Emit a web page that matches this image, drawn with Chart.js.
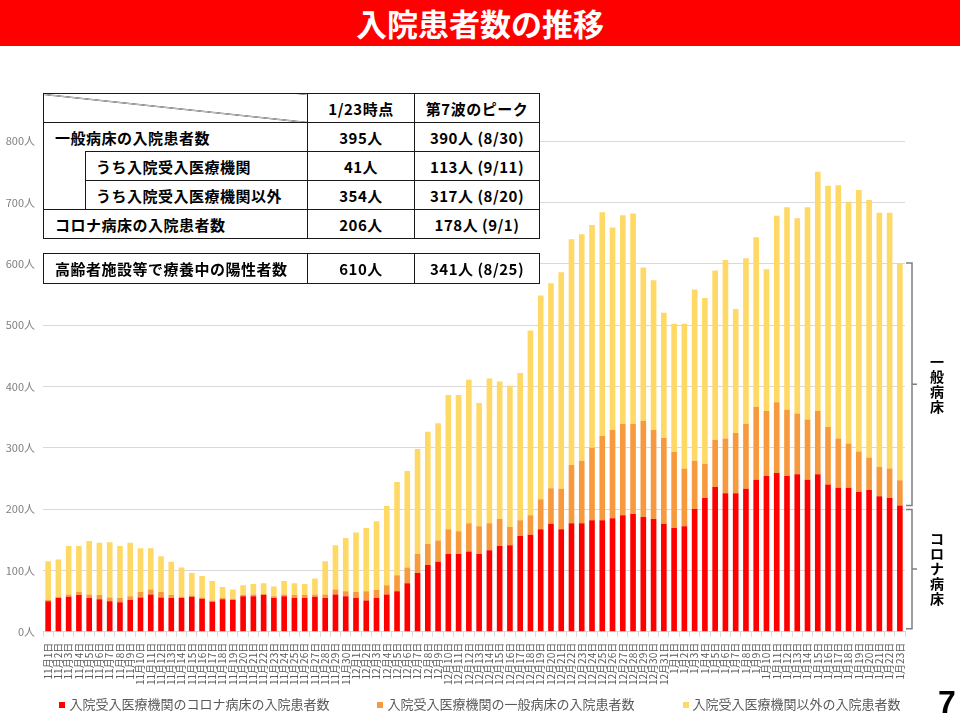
<!DOCTYPE html>
<html lang="ja">
<head>
<meta charset="utf-8">
<title>入院患者数の推移</title>
<script src="https://cdn.jsdelivr.net/npm/chart.js@4.4.1/dist/chart.umd.min.js"></script>
<style>
  body {
    margin: 0;
    width: 960px;
    height: 720px;
    position: relative;
    overflow: hidden;
    background: #fff;
    font-family: "Noto Sans CJK JP", "Noto Sans", sans-serif;
  }
  #hospital-chart {
    position: absolute;
    left: 0;
    top: 0;
  }
  .title-bar {
    position: absolute;
    left: 0;
    top: 0;
    width: 960px;
    height: 46px;
    background: #ff0000;
    color: #fff;
    font-weight: bold;
    font-size: 31px;
    line-height: 46px;
    text-align: center;
  }
  table.summary {
    position: absolute;
    left: 43px;
    width: 496px;
    border-collapse: collapse;
    table-layout: fixed;
    background: #fff;
    font-weight: bold;
    font-size: 15px;
    letter-spacing: 0.5px;
    color: #000;
  }
  table.summary td {
    border: 1px solid #1a1a1a;
    padding: 0;
    text-align: center;
    white-space: nowrap;
    overflow: hidden;
  }
  table.summary tr { height: 29px; }
  table.summary td.item { text-align: left; padding-left: 11px; }
  table.summary td.sub { padding-left: 10px; }
  table.summary td.no-bottom { border-bottom: none; }
  table.summary td.indent { border-top: none; }
  table.summary td.diag {
    background: linear-gradient(to top right, transparent calc(50% - 0.7px), #1a1a1a 50%, transparent calc(50% + 0.7px));
  }
  #table-main { top: 93px; }
  #table-care { top: 253px; }
  #table-care tr { height: 30px; }
  #legend {
    position: absolute;
    left: 0;
    top: 694px;
    width: 960px;
    text-align: center;
    font-size: 13px;
    line-height: 20px;
    color: #595959;
    white-space: nowrap;
  }
  #legend .item { display: inline-block; margin: 0 24px; }
  #legend .dot {
    display: inline-block;
    width: 6px;
    height: 6px;
    margin-right: 4px;
    vertical-align: 1px;
  }
  .page-no {
    position: absolute;
    left: 938px;
    top: 686px;
    font-family: "Liberation Sans", Arial, sans-serif;
    font-weight: bold;
    font-size: 32px;
    line-height: 32px;
    color: #000;
  }
</style>
</head>
<body>
<canvas id="hospital-chart" width="960" height="720"></canvas>
<div class="title-bar">入院患者数の推移</div>

<table class="summary" id="table-main">
  <colgroup><col style="width:42px"><col style="width:222px"><col style="width:107px"><col style="width:125px"></colgroup>
  <tr><td colspan="2" class="diag"></td><td>1/23時点</td><td>第7波のピーク</td></tr>
  <tr><td colspan="2" class="item no-bottom">一般病床の入院患者数</td><td>395人</td><td>390人 (8/30)</td></tr>
  <tr><td rowspan="2" class="indent"></td><td class="item sub">うち入院受入医療機関</td><td>41人</td><td>113人 (9/11)</td></tr>
  <tr><td class="item sub">うち入院受入医療機関以外</td><td>354人</td><td>317人 (8/20)</td></tr>
  <tr><td colspan="2" class="item">コロナ病床の入院患者数</td><td>206人</td><td>178人 (9/1)</td></tr>
</table>

<table class="summary" id="table-care">
  <colgroup><col style="width:42px"><col style="width:222px"><col style="width:107px"><col style="width:125px"></colgroup>
  <tr><td colspan="2" class="item">高齢者施設等で療養中の陽性者数</td><td>610人</td><td>341人 (8/25)</td></tr>
</table>

<div id="legend"></div>
<div class="page-no">7</div>

<script>
//-- Data //
const dayLabels = [
    '11月1日', '11月2日', '11月3日', '11月4日', '11月5日', '11月6日', '11月7日', '11月8日', '11月9日', '11月10日',
    '11月11日', '11月12日', '11月13日', '11月14日', '11月15日', '11月16日', '11月17日', '11月18日', '11月19日', '11月20日',
    '11月21日', '11月22日', '11月23日', '11月24日', '11月25日', '11月26日', '11月27日', '11月28日', '11月29日', '11月30日',
    '12月1日', '12月2日', '12月3日', '12月4日', '12月5日', '12月6日', '12月7日', '12月8日', '12月9日', '12月10日',
    '12月11日', '12月12日', '12月13日', '12月14日', '12月15日', '12月16日', '12月17日', '12月18日', '12月19日', '12月20日',
    '12月21日', '12月22日', '12月23日', '12月24日', '12月25日', '12月26日', '12月27日', '12月28日', '12月29日', '12月30日',
    '12月31日',
    '1月1日', '1月2日', '1月3日', '1月4日', '1月5日', '1月6日', '1月7日', '1月8日', '1月9日', '1月10日',
    '1月11日', '1月12日', '1月13日', '1月14日', '1月15日', '1月16日', '1月17日', '1月18日', '1月19日', '1月20日',
    '1月21日', '1月22日', '1月23日'
];

// 入院受入医療機関のコロナ病床
const coronaBed = [
    50, 55, 57, 60, 55, 53, 50, 48, 52, 56, 61, 56, 55, 55, 57, 54, 49, 53, 52, 58,
    58, 60, 55, 58, 55, 55, 57, 55, 61, 58,
    55, 51, 55, 61, 66, 79, 96, 109, 114, 127, 127, 131, 127, 133, 140, 141, 156, 158, 167, 176,
    167, 177, 177, 182, 182, 185, 190, 192, 187, 184, 176,
    169, 172, 200, 218, 236, 226, 226, 233, 248, 254, 259, 254, 257, 248, 257, 240, 235, 235, 228, 231,
    221, 218, 206
];

// 入院受入医療機関の一般病床
const generalBed = [
    2, 2, 4, 5, 6, 7, 6, 7, 6, 9, 8, 9, 5, 2, 2, 2, 2, 2, 2, 2,
    3, 2, 3, 3, 5, 5, 4, 6, 8, 8,
    10, 15, 13, 15, 26, 26, 31, 34, 35, 40, 37, 46, 45, 44, 44, 30, 26, 32, 49, 58,
    66, 95, 102, 118, 137, 144, 149, 147, 157, 145, 140,
    124, 94, 79, 56, 77, 89, 98, 106, 119, 106, 115, 108, 99, 98, 103, 94, 80, 72, 66, 53,
    48, 48, 41
];

// 入院受入医療機関以外
const otherHospital = [
    63, 61, 79, 75, 87, 85, 90, 85, 87, 71, 67, 58, 54, 48, 37, 35, 32, 18, 15, 16,
    17, 17, 16, 22, 19, 18, 26, 54, 72, 87,
    97, 103, 112, 129, 152, 157, 171, 183, 191, 219, 222, 234, 201, 236, 224, 230, 240, 301, 332, 334,
    353, 368, 369, 363, 365, 330, 340, 343, 250, 244, 204,
    209, 236, 279, 270, 276, 291, 202, 270, 276, 231, 304, 330, 318, 346, 390, 393, 413, 394, 426, 420,
    414, 417, 354
];

const seriesNames = [
    '入院受入医療機関のコロナ病床の入院患者数',
    '入院受入医療機関の一般病床の入院患者数',
    '入院受入医療機関以外の入院患者数'
];

//-- Brackets on the right side //
const bracketPlugin = {
    id: 'bedBrackets',
    afterDraw(chart) {
        const { ctx, chartArea } = chart;
        const y = chart.scales.y;
        const last = coronaBed.length - 1;
        const total = coronaBed[last] + generalBed[last] + otherHospital[last];
        const groups = [
            { text: '一般病床', top: y.getPixelForValue(total), bottom: y.getPixelForValue(coronaBed[last]) },
            { text: 'コロナ病床', top: y.getPixelForValue(coronaBed[last]) + 4, bottom: y.getPixelForValue(0) - 3 }
        ];
        const lineX = chartArea.right + 7;
        ctx.save();
        ctx.strokeStyle = '#7f7f7f';
        ctx.lineWidth = 1.5;
        ctx.fillStyle = '#000';
        ctx.font = 'bold 14px "Noto Sans CJK JP"';
        ctx.textAlign = 'center';
        ctx.textBaseline = 'middle';
        for (const g of groups) {
            const mid = (g.top + g.bottom) / 2;
            ctx.beginPath();
            ctx.moveTo(chartArea.right + 1, g.top);
            ctx.lineTo(lineX, g.top);
            ctx.lineTo(lineX, g.bottom);
            ctx.lineTo(chartArea.right + 1, g.bottom);
            ctx.moveTo(lineX, mid);
            ctx.lineTo(lineX + 5, mid);
            ctx.stroke();
            const chars = [...g.text];
            chars.forEach((ch, i) => {
                ctx.fillText(ch, chartArea.right + 32, mid + (i - (chars.length - 1) / 2) * 15);
            });
        }
        ctx.restore();
    }
};

//-- Chart //
Chart.defaults.font.family = '"Noto Sans CJK JP", "Noto Sans", sans-serif';

const ctx = document.getElementById('hospital-chart');

const chart = new Chart(ctx, {
    type: 'bar',
    data: {
        labels: dayLabels,
        datasets: [
            { label: seriesNames[0], data: coronaBed, backgroundColor: '#ff0000' },
            { label: seriesNames[1], data: generalBed, backgroundColor: '#f79a3e' },
            { label: seriesNames[2], data: otherHospital, backgroundColor: '#ffd966' }
        ]
    },
    options: {
        responsive: false,
        animation: false,
        layout: { padding: { top: 141, bottom: 29, left: 0, right: 0 } },
        datasets: { bar: { categoryPercentage: 1, barPercentage: 0.55 } },
        scales: {
            x: {
                stacked: true,
                grid: { offset: true, drawOnChartArea: false, tickLength: 5, color: '#d9d9d9' },
                border: { color: '#d9d9d9' },
                ticks: {
                    autoSkip: false,
                    maxRotation: 90,
                    minRotation: 90,
                    padding: 6,
                    color: '#595959',
                    font: { size: 10 }
                }
            },
            y: {
                stacked: true,
                min: 0,
                max: 800,
                grid: { color: '#d9d9d9', drawTicks: false },
                border: { display: false },
                ticks: {
                    stepSize: 100,
                    padding: 8,
                    color: '#808080',
                    font: { size: 11 },
                    callback: v => v + '人'
                },
                afterFit(scale) { scale.width = 43; }
            },
            // empty space for the brackets
            rightSpace: {
                position: 'right',
                display: true,
                grid: { display: false },
                border: { display: false },
                ticks: { display: false },
                afterFit(scale) { scale.width = 55; }
            }
        },
        plugins: {
            legend: { display: false },
            tooltip: { enabled: false }
        }
    },
    plugins: [bracketPlugin]
});

//-- Legend under the chart, built from the datasets //
const legendBox = document.getElementById('legend');
for (const ds of chart.data.datasets) {
    const item = document.createElement('span');
    item.className = 'item';
    const dot = document.createElement('span');
    dot.className = 'dot';
    dot.style.backgroundColor = ds.backgroundColor;
    item.appendChild(dot);
    item.appendChild(document.createTextNode(ds.label));
    legendBox.appendChild(item);
}
</script>
</body>
</html>
